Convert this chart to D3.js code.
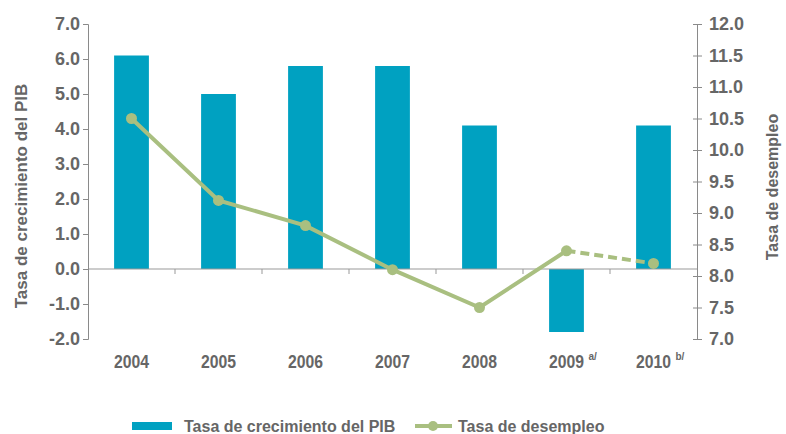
<!DOCTYPE html>
<html>
<head>
<meta charset="utf-8">
<script src="https://cdn.jsdelivr.net/npm/d3@7"></script>
<style>
  body { margin: 0; background: #fff; }
  svg text { font-family: "Liberation Sans", Arial, sans-serif; font-weight: bold; fill: #666; }
</style>
</head>
<body>
<div id="chart"></div>
<script>
var years = ["2004", "2005", "2006", "2007", "2008", "2009", "2010"];
var yearNotes = ["", "", "", "", "", "a/", "b/"];
var pibValues = [6.1, 5.0, 5.8, 5.8, 4.1, -1.8, 4.1];
var desempleoValues = [10.5, 9.2, 8.8, 8.1, 7.5, 8.4, 8.2];
var leftTicks = [-2, -1, 0, 1, 2, 3, 4, 5, 6, 7];
var rightTicks = [7, 7.5, 8, 8.5, 9, 9.5, 10, 10.5, 11, 11.5, 12];

var W = 786, H = 434;
var margin = {top: 24, right: 89, bottom: 95, left: 88};
var width = W - margin.left - margin.right,
    height = H - margin.top - margin.bottom;

var barColor = "#00a1c1", lineColor = "#a9bf80", axisColor = "#8a8a8a";
var fmt = function(d){ return d.toFixed(1); };   // plain hyphen for negatives

var svg = d3.select("#chart").append("svg")
    .attr("width", W).attr("height", H);
var g = svg.append("g")
    .attr("transform", "translate(" + margin.left + "," + margin.top + ")");

var x = d3.scaleBand().domain(years).range([0, width]).padding(0);
var yL = d3.scaleLinear().domain([-2, 7]).range([height, 0]);
var yR = d3.scaleLinear().domain([7, 12]).range([height, 0]);
var barW = x.bandwidth() * 0.4;

// bars
g.selectAll(".bar")
  .data(pibValues)
  .enter().append("rect")
  .attr("class", "bar")
  .attr("x", function(d, i){ return x(years[i]) + (x.bandwidth() - barW) / 2; })
  .attr("y", function(d){ return yL(Math.max(0, d)); })
  .attr("width", barW)
  .attr("height", function(d){ return Math.abs(yL(d) - yL(0)); })
  .attr("fill", barColor);

// zero line with category ticks
var zeroAxis = g.append("g")
  .attr("transform", "translate(0," + yL(0) + ")");
zeroAxis.append("line")
  .attr("x1", 0).attr("x2", width)
  .attr("stroke", "#999").attr("stroke-width", 1.2);
zeroAxis.selectAll(".ctick")
  .data(years.slice(1))
  .enter().append("line")
  .attr("x1", function(d){ return x(d); })
  .attr("x2", function(d){ return x(d); })
  .attr("y1", 0).attr("y2", 5)
  .attr("stroke", "#999");

// left axis
var leftAxis = g.append("g")
  .call(d3.axisLeft(yL).tickValues(leftTicks).tickSize(5).tickPadding(3).tickFormat(fmt));
leftAxis.selectAll("text").style("font-size", "18px");

// right axis
var rightAxis = g.append("g")
  .attr("transform", "translate(" + width + ",0)")
  .call(d3.axisRight(yR).tickValues(rightTicks).tickSize(5).tickPadding(7).tickFormat(fmt));
rightAxis.selectAll(".tick line").attr("x1", -4);
rightAxis.selectAll("text").style("font-size", "18px");
g.selectAll(".domain, .tick line").attr("stroke", axisColor);

// line: solid, then dashed last segment
var linePts = desempleoValues.map(function(d, i){
  return [x(years[i]) + x.bandwidth() / 2, yR(d)];
});
var line = d3.line();
g.append("path")
  .attr("d", line(linePts.slice(0, 6)))
  .attr("fill", "none").attr("stroke", lineColor).attr("stroke-width", 4);
g.append("path")
  .attr("d", line(linePts.slice(5)))
  .attr("fill", "none").attr("stroke", lineColor).attr("stroke-width", 4)
  .attr("stroke-dasharray", "9,5");
g.selectAll(".dot")
  .data(linePts)
  .enter().append("circle")
  .attr("cx", function(d){ return d[0]; })
  .attr("cy", function(d){ return d[1]; })
  .attr("r", 5.5)
  .attr("fill", lineColor);

// x labels (condensed look)
g.selectAll(".xlab")
  .data(years)
  .enter().append("text")
  .attr("x", function(d){ return x(d) + x.bandwidth() / 2; })
  .attr("y", height + 29)
  .attr("text-anchor", "middle")
  .attr("textLength", 35)
  .attr("lengthAdjust", "spacingAndGlyphs")
  .style("font-size", "18px")
  .text(function(d){ return d; });
g.selectAll(".xnote")
  .data(years)
  .enter().append("text")
  .attr("x", function(d){ return x(d) + x.bandwidth() / 2 + 22; })
  .attr("y", height + 21)
  .style("font-size", "10px")
  .text(function(d, i){ return yearNotes[i]; });

// axis titles
svg.append("text")
  .attr("transform", "translate(27,196) rotate(-90)")
  .attr("text-anchor", "middle")
  .style("font-size", "17px")
  .text("Tasa de crecimiento del PIB");
svg.append("text")
  .attr("transform", "translate(778,187) rotate(-90)")
  .attr("text-anchor", "middle")
  .style("font-size", "16px")
  .text("Tasa de desempleo");

// legend
var lg = svg.append("g").attr("transform", "translate(132,426)");
lg.append("rect").attr("x", 0).attr("y", -4).attr("width", 40).attr("height", 8).attr("fill", barColor);
lg.append("text").attr("x", 52).attr("y", 6).style("font-size", "16px").text("Tasa de crecimiento del PIB");
lg.append("line").attr("x1", 283).attr("x2", 320).attr("y1", 0).attr("y2", 0)
  .attr("stroke", lineColor).attr("stroke-width", 4);
lg.append("circle").attr("cx", 301).attr("cy", 0).attr("r", 5).attr("fill", lineColor);
lg.append("text").attr("x", 326).attr("y", 6).style("font-size", "16px").text("Tasa de desempleo");
</script>
</body>
</html>
